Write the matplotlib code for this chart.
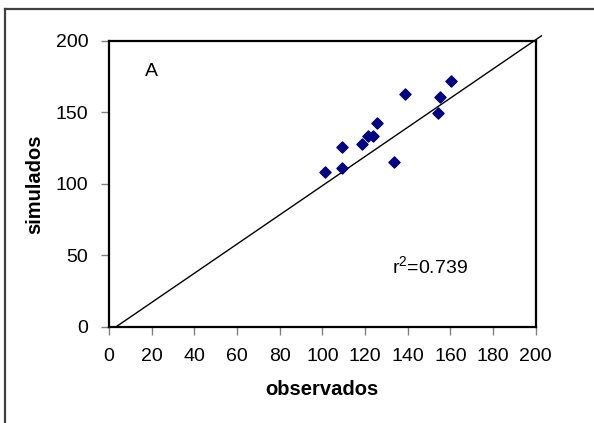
import numpy as np
import matplotlib.pyplot as plt
import matplotlib as mpl
from matplotlib.lines import Line2D

mpl.rcParams['font.family'] = ['Liberation Sans', 'DejaVu Sans']
mpl.rcParams['mathtext.fontset'] = 'custom'
mpl.rcParams['mathtext.rm'] = 'Liberation Sans'

# observados vs simulados
observados = [101.4, 109.2, 109.2, 118.4, 121.2, 123.8, 125.6, 133.4, 138.8, 154.3, 155.1, 160.3]
simulados = [108.3, 125.9, 111.4, 127.8, 133.3, 133.3, 142.8, 115.5, 162.7, 149.7, 160.6, 171.8]
# regression line end points
linea_x = [3.4, 202.7]
linea_y = [0.0, 203.6]
r2 = 0.739

fig = plt.figure(figsize=(5.94, 4.23), dpi=100)
ax = fig.add_axes([0.1835, 0.2277, 0.7183, 0.6754])

ax.plot(linea_x, linea_y, color='black', lw=1.0, clip_on=False, zorder=2)
ax.scatter(observados, simulados, marker='D', s=32, color='#000080', zorder=3)

ax.set_xlim(0, 200)
ax.set_ylim(0, 200)
ax.set_xticks(np.arange(0, 201, 20))
ax.set_yticks(np.arange(0, 201, 50))
ax.tick_params(direction='out', length=6, width=1, color='#808080', labelsize=14, pad=9)
for s in ax.spines.values():
    s.set_linewidth(1.6)
    s.set_color('black')

ax.set_xlabel('observados', fontsize=14.5, fontweight='bold', labelpad=11)
ax.set_ylabel('simulados', fontsize=14.5, fontweight='bold', labelpad=8)

ax.text(19.7, 178.6, 'A', fontsize=14, ha='center', va='center')
ax.text(132.5, 37.6, r'$\mathregular{r^2}$=' + str(r2), fontsize=14, ha='left', va='baseline')

# outer chart frame
fig.add_artist(Line2D([0.0084, 0.0084], [0.0, 0.9787], color='#404040', lw=1.6))
fig.add_artist(Line2D([0.0084, 1.0], [0.9787, 0.9787], color='#404040', lw=1.6))

plt.savefig('out.png', dpi=100)
